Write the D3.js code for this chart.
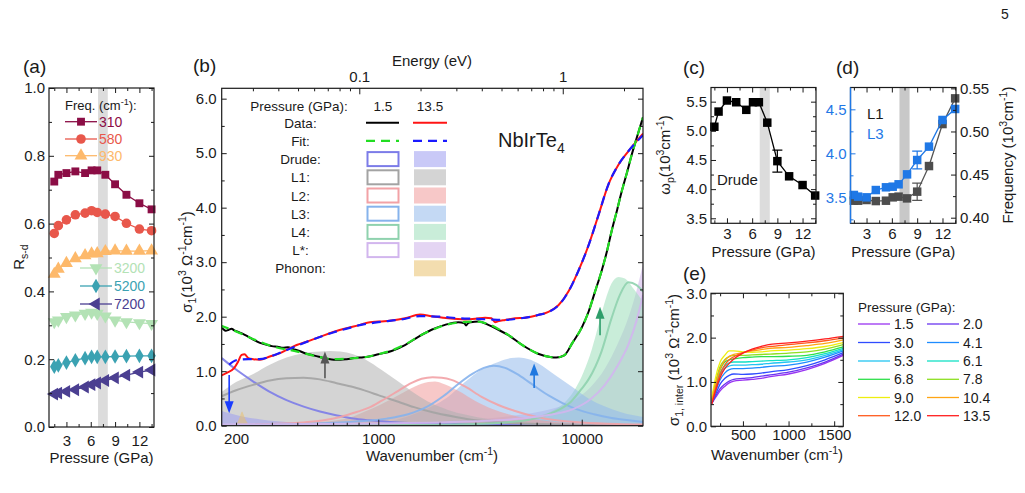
<!DOCTYPE html>
<html>
<head>
<meta charset="utf-8">
<script src="https://cdn.jsdelivr.net/npm/d3@7"></script>
<style>
  body { margin: 0; background: #fff; }
  text { font-family: "Liberation Sans", Arial, sans-serif; }
</style>
</head>
<body>
<div id="fig"></div>
<script>
// ---------------- data ----------------
const pressures = [1.5, 2.0, 3.0, 4.1, 5.3, 6.1, 6.8, 7.8, 9.0, 10.4, 12.0, 13.5];
const bandLo = 6.9, bandHi = 8.1;

// (a) R_s-d at each frequency
const rsd310  = [0.724, 0.744, 0.749, 0.754, 0.749, 0.757, 0.757, 0.744, 0.716, 0.685, 0.660, 0.642];
const rsd580  = [0.571, 0.594, 0.611, 0.626, 0.631, 0.638, 0.633, 0.628, 0.621, 0.601, 0.584, 0.579];
const rsd930  = [0.451, 0.466, 0.483, 0.497, 0.506, 0.511, 0.512, 0.518, 0.520, 0.519, 0.519, 0.520];
const rsd3200 = [0.310, 0.315, 0.325, 0.330, 0.335, 0.338, 0.335, 0.327, 0.315, 0.310, 0.307, 0.305];
const rsd5200 = [0.178, 0.182, 0.190, 0.197, 0.203, 0.207, 0.207, 0.207, 0.208, 0.209, 0.210, 0.210];
const rsd7200 = [0.097, 0.100, 0.105, 0.110, 0.118, 0.125, 0.130, 0.137, 0.145, 0.153, 0.162, 0.168];

// (b) sigma_1 [wavenumber, value]
const data15 = [[167,1.82],[172,1.78],[178,1.74],[184,1.76],[190,1.78],[196,1.75],[205,1.72],[215,1.69],[228,1.64],[243,1.58],[262,1.52],[280,1.49],[300,1.46],[320,1.45],[340,1.43],[360,1.44],[380,1.41],[410,1.37],[444,1.32],[480,1.29],[517,1.26],[560,1.23],[605,1.21],[650,1.21],[700,1.22],[760,1.24],[813,1.25],[900,1.27],[1000,1.31],[1163,1.37],[1353,1.48],[1573,1.63],[1828,1.76],[2128,1.85],[2473,1.90],[2650,1.88],[2700,1.84],[2760,1.88],[2850,1.90],[3107,1.91],[3473,1.85],[3890,1.76],[4360,1.66],[5100,1.48],[6100,1.32],[7000,1.26],[7500,1.25],[8200,1.29],[9000,1.52],[10000,1.80],[10800,2.09],[11600,2.45],[12500,2.83],[13300,3.20],[14000,3.56],[14900,3.95],[15700,4.29],[16700,4.65],[17600,4.97],[18700,5.30],[20000,5.66]];
const data135 = [[167,0.91],[180,0.97],[195,1.05],[205,1.18],[213,1.30],[220,1.31],[230,1.24],[243,1.22],[262,1.21],[293,1.27],[329,1.33],[354,1.39],[397,1.48],[444,1.54],[517,1.63],[601,1.72],[699,1.79],[813,1.85],[910,1.90],[1000,1.91],[1163,1.93],[1353,1.97],[1603,2.04],[1828,2.01],[2208,1.97],[2666,1.95],[3000,1.96],[3350,1.98],[3600,1.97],[3750,1.90],[3900,1.92],[4200,1.94],[4700,1.97],[5260,1.98],[6120,2.03],[6860,2.09],[7680,2.21],[8600,2.46],[9600,2.83],[10800,3.31],[12100,3.87],[13500,4.42],[15100,4.78],[16900,5.03],[20000,5.36]];
const fit15 = [[167,1.84],[200,1.73],[250,1.57],[300,1.46],[400,1.36],[500,1.27],[600,1.22],[700,1.23],[900,1.27],[1000,1.31],[1200,1.40],[1400,1.52],[1600,1.65],[1900,1.78],[2200,1.86],[2600,1.90],[3000,1.91],[3500,1.86],[4000,1.75],[4500,1.63],[5100,1.48],[6100,1.32],[7000,1.26],[7500,1.25],[8200,1.29],[9000,1.52],[10000,1.80],[10800,2.09],[11600,2.45],[12500,2.83],[13300,3.20],[14000,3.56],[14900,3.95],[15700,4.29],[16700,4.65],[17600,4.97],[18700,5.30],[20000,5.66]];
const fit135 = [[185,1.12],[200,1.20],[230,1.22],[260,1.22],[300,1.28],[350,1.38],[400,1.47],[500,1.61],[600,1.71],[700,1.78],[800,1.84],[1000,1.90],[1300,1.95],[1600,2.01],[2000,2.00],[2500,1.97],[3000,1.96],[3500,1.95],[4000,1.94],[5000,1.97],[6100,2.03],[6900,2.09],[7700,2.21],[8600,2.46],[9600,2.83],[10800,3.31],[12100,3.87],[13500,4.42],[15100,4.78],[16900,5.03],[20000,5.33]];

// 1.5 GPa components (lines)
const drude15 = [[170,1.24],[200,1.03],[243,0.81],[290,0.63],[354,0.47],[430,0.35],[517,0.26],[620,0.19],[753,0.13],[900,0.10],[1141,0.07],[2000,0.035],[5000,0.015],[20000,0.005]];
const l1_15 = [[170,0.54],[200,0.65],[243,0.75],[293,0.83],[354,0.87],[430,0.88],[517,0.85],[624,0.78],[753,0.71],[900,0.62],[1000,0.56],[1254,0.44],[1500,0.34],[1828,0.25],[2400,0.16],[3000,0.10],[5000,0.04],[10000,0.015],[20000,0.005]];
const l2_15 = [[170,0.01],[300,0.03],[430,0.06],[540,0.10],[650,0.16],[782,0.25],[900,0.33],[1040,0.46],[1254,0.64],[1450,0.78],[1633,0.86],[1850,0.89],[2050,0.88],[2290,0.84],[2666,0.72],[3220,0.53],[3890,0.38],[4700,0.27],[6000,0.16],[7500,0.10],[10000,0.06],[15000,0.03],[20000,0.02]];
const l3_15 = [[170,0.01],[500,0.04],[800,0.08],[1100,0.13],[1400,0.21],[1700,0.33],[2100,0.55],[2500,0.78],[2900,0.95],[3300,1.06],[3700,1.10],[4200,1.06],[4800,0.95],[5600,0.78],[6900,0.55],[8000,0.42],[9500,0.30],[11500,0.21],[14000,0.14],[17000,0.10],[20000,0.07]];
const l4_15 = [[170,0.005],[1000,0.01],[3000,0.03],[4200,0.06],[5500,0.11],[6500,0.18],[7600,0.28],[8900,0.45],[10000,0.68],[10800,0.85],[12500,1.36],[14000,1.97],[15400,2.40],[16950,2.63],[18600,2.58],[20000,2.46]];
const lstar15 = [[170,0.02],[1000,0.04],[3000,0.08],[5000,0.13],[7000,0.20],[9000,0.30],[11000,0.48],[13000,0.75],[15000,1.10],[17000,1.50],[18500,1.90],[20000,2.40]];

// 13.5 GPa components (filled)
const drude135 = [[170,0.27],[190,0.22],[220,0.16],[260,0.12],[320,0.08],[420,0.05],[600,0.03],[1000,0.02],[3000,0.01],[20000,0.0]];
const phonon135 = [[180,0],[195,0.01],[203,0.06],[209,0.17],[214,0.26],[219,0.18],[226,0.07],[235,0.02],[250,0.005],[270,0]];
const l1_135 = [[170,0.62],[200,0.80],[243,0.95],[293,1.12],[354,1.25],[430,1.33],[517,1.36],[580,1.37],[650,1.36],[753,1.31],[860,1.22],[1040,1.02],[1254,0.81],[1514,0.59],[1828,0.41],[2200,0.29],[2700,0.20],[3500,0.12],[5000,0.07],[10000,0.03],[20000,0.01]];
const l2_135 = [[170,0.01],[400,0.04],[600,0.09],[753,0.17],[860,0.26],[1040,0.40],[1254,0.56],[1514,0.72],[1760,0.80],[1900,0.81],[2050,0.78],[2470,0.64],[2985,0.46],[3610,0.31],[4360,0.21],[5500,0.13],[7500,0.07],[10000,0.04],[20000,0.015]];
const l3_135 = [[170,0.01],[600,0.03],[1000,0.05],[1254,0.12],[1514,0.22],[1828,0.35],[2208,0.53],[2666,0.80],[3220,1.03],[3890,1.17],[4500,1.24],[4900,1.25],[5500,1.22],[6120,1.14],[7390,0.93],[8920,0.72],[10790,0.50],[13020,0.35],[15740,0.24],[20000,0.16]];
const l4_135 = [[170,0.005],[2000,0.02],[3500,0.05],[5000,0.10],[6100,0.17],[7400,0.30],[8400,0.46],[9300,0.68],[10200,0.98],[11200,1.40],[12100,1.85],[13000,2.28],[14000,2.61],[15150,2.73],[16300,2.70],[17900,2.52],[20000,2.28]];
const lstar135 = [[170,0.03],[1000,0.06],[3000,0.12],[5000,0.20],[7000,0.30],[9000,0.45],[11000,0.70],[13000,1.05],[15000,1.50],[17000,2.00],[18500,2.45],[20000,2.97]];

// (b) arrows: wavenumber, start, end
const arrowW = [185, 547, 5835, 12300];
const arrowFrom = [0.93, 0.87, 0.69, 1.66];
const arrowTo = [0.23, 1.36, 1.14, 2.18];

// (c) Drude plasma frequency
const drudeWp = [5.07, 5.33, 5.52, 5.49, 5.36, 5.49, 5.49, 5.14, 4.48, 4.22, 4.07, 3.89];
const drudeWpErr = [0, 0, 0, 0, 0, 0, 0, 0, 0.19, 0, 0, 0];

// (d) oscillator frequencies
const l3Freq = [3.527, 3.508, 3.50, 3.583, 3.614, 3.621, 3.648, 3.761, 3.924, 4.076, 4.379, 4.504];
const l3Err = [0, 0, 0, 0, 0, 0, 0, 0, 0.10, 0, 0, 0];
const l1Freq = [0.4197, 0.4197, 0.4205, 0.4193, 0.4197, 0.4236, 0.4244, 0.4224, 0.4302, 0.4599, 0.5086, 0.5384];
const l1Err = [0, 0, 0, 0, 0, 0, 0, 0, 0.01, 0, 0, 0];

// (e) sigma_1,inter
const eWaves = [160, 200, 250, 300, 350, 400, 500, 600, 700, 800, 1000, 1200, 1400, 1600];
const sig1_5  = [0.52,0.65,0.80,0.90,0.98,1.02,1.04,1.06,1.08,1.12,1.18,1.28,1.42,1.60];
const sig2_0  = [0.52,0.68,0.85,0.95,1.02,1.06,1.08,1.10,1.13,1.16,1.22,1.32,1.45,1.63];
const sig3_0  = [0.52,0.72,0.95,1.08,1.15,1.18,1.17,1.18,1.20,1.23,1.28,1.37,1.50,1.66];
const sig4_1  = [0.55,0.78,1.05,1.20,1.28,1.30,1.30,1.31,1.33,1.35,1.38,1.45,1.56,1.70];
const sig5_3  = [0.57,0.85,1.15,1.30,1.36,1.38,1.38,1.39,1.40,1.42,1.45,1.50,1.60,1.73];
const sig6_1  = [0.58,0.90,1.20,1.36,1.43,1.45,1.45,1.46,1.47,1.48,1.50,1.55,1.64,1.76];
const sig6_8  = [0.60,0.95,1.28,1.45,1.50,1.52,1.55,1.56,1.57,1.57,1.58,1.60,1.68,1.79];
const sig7_8  = [0.62,1.00,1.35,1.50,1.57,1.60,1.60,1.61,1.62,1.63,1.65,1.68,1.74,1.84];
const sig9_0  = [0.65,1.10,1.45,1.60,1.70,1.70,1.68,1.67,1.68,1.70,1.72,1.75,1.80,1.89];
const sig10_4 = [0.58,0.95,1.30,1.48,1.58,1.62,1.66,1.70,1.73,1.76,1.78,1.82,1.87,1.95];
const sig12_0 = [0.53,0.85,1.18,1.38,1.50,1.57,1.66,1.72,1.77,1.80,1.84,1.88,1.93,1.99];
const sig13_5 = [0.50,0.80,1.10,1.30,1.42,1.52,1.65,1.74,1.80,1.85,1.88,1.92,1.97,2.03];

// ---------------- setup ----------------
const INK = "#1a1a1a";
const svg = d3.select("#fig").append("svg")
    .attr("width", 1025)
    .attr("height", 493)
    .style("background", "#fff");

// text with sub/superscripts: parts = [[text, "sup"|"sub"|undefined], ...]
function rich(sel, parts, size) {
    let shift = 0;
    parts.forEach(p => {
        const s = p[1] === "sup" ? -0.38 * size : (p[1] === "sub" ? 0.28 * size : 0);
        sel.append("tspan")
            .attr("dy", s - shift)
            .attr("font-size", p[1] ? size * 0.7 : size)
            .text(p[0]);
        shift = s;
    });
    return sel;
}

function axis(g, kind, scale, values, size, opt) {
    opt = opt || {};
    const gen = {bottom: d3.axisBottom, top: d3.axisTop, left: d3.axisLeft, right: d3.axisRight}[kind];
    const ax = gen(scale).tickValues(values).tickSizeInner(-size).tickSizeOuter(0)
        .tickPadding(opt.pad || 4).tickFormat(opt.fmt || (() => ""));
    const sel = g.append("g").attr("transform", opt.tr || null).call(ax);
    sel.attr("font-family", "Liberation Sans, Arial, sans-serif").attr("font-size", 15);
    sel.select(".domain").remove();
    sel.selectAll(".tick line").attr("stroke", opt.color || INK).attr("stroke-width", 1);
    sel.selectAll(".tick text").attr("fill", opt.color || INK);
    return sel;
}

function frame(g, p) {
    g.append("rect").attr("x", p.x0).attr("y", p.y0)
        .attr("width", p.x1 - p.x0).attr("height", p.y1 - p.y0)
        .attr("fill", "none").attr("stroke", INK).attr("stroke-width", 1.2);
}

function panelLetter(x, y, s) {
    svg.append("text").attr("x", x).attr("y", y).attr("font-size", 19).attr("fill", INK).text(s);
}

function pressureTicks(g, x, p, pad) {
    const minor = [1.5, 4.5, 7.5, 10.5, 13.5].filter(v => v <= x.domain()[1]);
    axis(g, "bottom", x, [3, 6, 9, 12], 5, {tr: `translate(0,${p.y1})`, fmt: d3.format("d"), pad: pad});
    axis(g, "bottom", x, minor, 3, {tr: `translate(0,${p.y1})`});
    axis(g, "top", x, [3, 6, 9, 12], 5, {tr: `translate(0,${p.y0})`});
    axis(g, "top", x, minor, 3, {tr: `translate(0,${p.y0})`});
}

svg.append("text").attr("x", 1001).attr("y", 19).attr("font-size", 14).attr("fill", INK).text("5");

// ---------------- panel (a) ----------------
const pa = {x0: 49, x1: 154, y0: 88, y1: 427};
const xa = d3.scaleLinear().domain([0.85, 13.8]).range([pa.x0, pa.x1]);
const ya = d3.scaleLinear().domain([0, 1]).range([pa.y1, pa.y0]);
const ga = svg.append("g");

ga.append("rect").attr("x", xa(bandLo)).attr("y", pa.y0)
    .attr("width", xa(bandHi) - xa(bandLo)).attr("height", pa.y1 - pa.y0).attr("fill", "#dcdcdc");

const rsdSeries = [
    {label: "310", vals: rsd310, color: "#8b0d45", sym: d3.symbolSquare, size: 62, rot: 0},
    {label: "580", vals: rsd580, color: "#e8574b", sym: d3.symbolCircle, size: 72, rot: 0},
    {label: "930", vals: rsd930, color: "#fdb96b", sym: d3.symbolTriangle, size: 72, rot: 0},
    {label: "3200", vals: rsd3200, color: "#b3e2b5", sym: d3.symbolTriangle, size: 72, rot: 180},
    {label: "5200", vals: rsd5200, color: "#3ba2b2", sym: d3.symbolDiamond, size: 62, rot: 0},
    {label: "7200", vals: rsd7200, color: "#4b3f91", sym: d3.symbolTriangle, size: 72, rot: -90}
];

rsdSeries.forEach(s => {
    ga.append("path").datum(s.vals)
        .attr("d", d3.line().x((v, i) => xa(pressures[i])).y(v => ya(v)))
        .attr("fill", "none").attr("stroke", s.color).attr("stroke-width", 1.3);
    ga.selectAll(null).data(s.vals).join("path")
        .attr("transform", (v, i) => `translate(${xa(pressures[i])},${ya(v)}) rotate(${s.rot})`)
        .attr("d", d3.symbol().type(s.sym).size(s.size))
        .attr("fill", s.color);
});

// legend (a)
rich(ga.append("text").attr("x", 65).attr("y", 110).attr("fill", INK),
    [["Freq. (cm"], ["-1", "sup"], ["):"]], 13);
const legAy = [121.7, 139, 155.7, 268, 286, 304];
const legAx = [65, 65, 65, 80, 80, 80];
rsdSeries.forEach((s, i) => {
    const lx = legAx[i], ly = legAy[i];
    ga.append("line").attr("x1", lx).attr("x2", lx + 32).attr("y1", ly).attr("y2", ly)
        .attr("stroke", s.color).attr("stroke-width", 1.3);
    ga.append("path").attr("transform", `translate(${lx + 16},${ly}) rotate(${s.rot})`)
        .attr("d", d3.symbol().type(s.sym).size(s.size)).attr("fill", s.color);
    ga.append("text").attr("x", lx + 34).attr("y", ly + 5).attr("font-size", 14)
        .attr("fill", s.color).text(s.label);
});

pressureTicks(ga, xa, pa, 8);
axis(ga, "left", ya, d3.range(0, 1.01, 0.2), 5, {tr: `translate(${pa.x0},0)`, fmt: d3.format(".1f"), pad: 4});
axis(ga, "left", ya, d3.range(0.1, 1, 0.2), 3, {tr: `translate(${pa.x0},0)`});
axis(ga, "right", ya, d3.range(0, 1.01, 0.2), 5, {tr: `translate(${pa.x1},0)`});
axis(ga, "right", ya, d3.range(0.1, 1, 0.2), 3, {tr: `translate(${pa.x1},0)`});
frame(ga, pa);

ga.append("text").attr("x", (pa.x0 + pa.x1) / 2).attr("y", 463).attr("text-anchor", "middle")
    .attr("font-size", 15).attr("fill", INK).text("Pressure (GPa)");
rich(ga.append("text").attr("transform", "translate(24,257) rotate(-90)").attr("text-anchor", "middle").attr("fill", INK),
    [["R"], ["s-d", "sub"]], 15);
panelLetter(23, 73, "(a)");

// ---------------- panel (b) ----------------
const pb = {x0: 221.7, x1: 643, y0: 88.3, y1: 425.7};
const CM_PER_EV = 8065.54;
const xb = d3.scaleLog().domain([170, 20000]).range([pb.x0, pb.x1]);
const xbe = d3.scaleLog().domain([170 / CM_PER_EV, 20000 / CM_PER_EV]).range([pb.x0, pb.x1]);
const yb = d3.scaleLinear().domain([0, 6.19]).range([pb.y1, pb.y0]);
const gb = svg.append("g");

svg.append("defs").append("clipPath").attr("id", "clipb").append("rect")
    .attr("x", pb.x0).attr("y", pb.y0).attr("width", pb.x1 - pb.x0).attr("height", pb.y1 - pb.y0);
const plotB = gb.append("g").attr("clip-path", "url(#clipb)");

const lineB = d3.line().x(d => xb(d[0])).y(d => yb(d[1])).curve(d3.curveMonotoneX);
const areaB = d3.area().x(d => xb(d[0])).y0(yb(0)).y1(d => yb(d[1])).curve(d3.curveMonotoneX);

const comps = [
    {name: "Drude:", line: drude15, fill: drude135, stroke: "#7c7ce8", base: "#9d9df0"},
    {name: "L1:", line: l1_15, fill: l1_135, stroke: "#a3a3a3", base: "#b1b1b1"},
    {name: "L2:", line: l2_15, fill: l2_135, stroke: "#f2a2a6", base: "#f09b9b"},
    {name: "L3:", line: l3_15, fill: l3_135, stroke: "#86b3ec", base: "#94baeb"},
    {name: "L4:", line: l4_15, fill: l4_135, stroke: "#8fd2ae", base: "#9ddeba"},
    {name: "L*:", line: lstar15, fill: lstar135, stroke: "#d2b6ee", base: "#ceb3e9"},
    {name: "Phonon:", line: null, fill: phonon135, stroke: null, base: "#e9c16e"}
];
const FILL_OP = 0.55;

// filled 13.5 GPa components
[5, 4, 3, 2, 1, 0, 6].forEach(i => {
    plotB.append("path").datum(comps[i].fill).attr("d", areaB)
        .attr("fill", comps[i].base).attr("fill-opacity", FILL_OP);
});
// 1.5 GPa component lines
comps.forEach(c => {
    if (!c.line) return;
    plotB.append("path").datum(c.line).attr("d", lineB)
        .attr("fill", "none").attr("stroke", c.stroke).attr("stroke-width", 2).attr("opacity", 0.9);
});

// data and fits
plotB.append("path").datum(data15).attr("d", lineB).attr("fill", "none").attr("stroke", "#000").attr("stroke-width", 2);
plotB.append("path").datum(data135).attr("d", lineB).attr("fill", "none").attr("stroke", "#ff1414").attr("stroke-width", 2);
plotB.append("path").datum(fit15).attr("d", lineB).attr("fill", "none").attr("stroke", "#22dd22")
    .attr("stroke-width", 2.2).attr("stroke-dasharray", "9,6");
plotB.append("path").datum(fit135).attr("d", lineB).attr("fill", "none").attr("stroke", "#1a1aff")
    .attr("stroke-width", 2.2).attr("stroke-dasharray", "9,6");

// arrows
const arrowColors = ["#1a3cff", "#555555", "#1f78e0", "#2e9e6a"];
arrowW.forEach((w, i) => {
    const x = xb(w), y1 = yb(arrowFrom[i]), y2 = yb(arrowTo[i]);
    const dir = y2 > y1 ? 1 : -1;
    plotB.append("line").attr("x1", x).attr("x2", x).attr("y1", y1).attr("y2", y2 - dir * 8)
        .attr("stroke", arrowColors[i]).attr("stroke-width", 1.6);
    plotB.append("path")
        .attr("d", `M${x},${y2} L${x - 4.5},${y2 - dir * 12} L${x + 4.5},${y2 - dir * 12} Z`)
        .attr("fill", arrowColors[i]);
});

// axes (b)
axis(gb, "bottom", xb, [1000, 10000], 6, {tr: `translate(0,${pb.y1})`, fmt: d3.format("d"), pad: 8});
const minorW = [200, 300, 400, 500, 600, 700, 800, 900, 2000, 3000, 4000, 5000, 6000, 7000, 8000, 9000];
axis(gb, "bottom", xb, minorW, 3, {tr: `translate(0,${pb.y1})`, fmt: v => v === 200 ? "200" : "", pad: 8});
axis(gb, "top", xbe, [0.1, 1], 6, {tr: `translate(0,${pb.y0})`, fmt: v => String(v), pad: 6});
const minorE = [0.03, 0.04, 0.05, 0.06, 0.07, 0.08, 0.09, 0.2, 0.3, 0.4, 0.5, 0.6, 0.7, 0.8, 0.9, 2];
axis(gb, "top", xbe, minorE, 3, {tr: `translate(0,${pb.y0})`});
axis(gb, "left", yb, d3.range(0, 6.01, 1), 5, {tr: `translate(${pb.x0},0)`, fmt: d3.format(".1f"), pad: 5});
axis(gb, "left", yb, d3.range(0.5, 6.1, 1), 3, {tr: `translate(${pb.x0},0)`});
axis(gb, "right", yb, d3.range(0, 6.01, 1), 5, {tr: `translate(${pb.x1},0)`});
axis(gb, "right", yb, d3.range(0.5, 6.1, 1), 3, {tr: `translate(${pb.x1},0)`});
frame(gb, pb);

gb.append("text").attr("x", 432).attr("y", 66).attr("text-anchor", "middle")
    .attr("font-size", 15).attr("fill", INK).text("Energy (eV)");
rich(gb.append("text").attr("x", 432).attr("y", 461).attr("text-anchor", "middle").attr("fill", INK),
    [["Wavenumber (cm"], ["-1", "sup"], [")"]], 15);
rich(gb.append("text").attr("transform", "translate(192,262) rotate(-90)").attr("text-anchor", "middle").attr("fill", INK),
    [["σ"], ["1", "sub"], ["(10"], ["3", "sup"], [" Ω"], ["-1", "sup"], ["cm"], ["-1", "sup"], [")"]], 15);
rich(gb.append("text").attr("x", 498).attr("y", 147).attr("fill", INK), [["NbIrTe"], ["4", "sub"]], 20);
panelLetter(193, 72, "(b)");

// legend (b)
const legB = gb.append("g").attr("font-size", 13.5).attr("fill", INK);
legB.append("text").attr("x", 299).attr("y", 110.5).attr("text-anchor", "middle").text("Pressure (GPa):");
legB.append("text").attr("x", 383).attr("y", 110.5).attr("text-anchor", "middle").text("1.5");
legB.append("text").attr("x", 430).attr("y", 110.5).attr("text-anchor", "middle").text("13.5");
const rowY = d3.range(9).map(i => 122.7 + i * 18.2);
const rowLabels = ["Data:", "Fit:"].concat(comps.map(c => c.name));
rowLabels.forEach((t, i) => {
    legB.append("text").attr("x", 300.5).attr("y", rowY[i] + 5).attr("text-anchor", "middle").text(t);
});
legB.append("line").attr("x1", 366).attr("x2", 399).attr("y1", rowY[0]).attr("y2", rowY[0]).attr("stroke", "#000").attr("stroke-width", 2);
legB.append("line").attr("x1", 413).attr("x2", 447).attr("y1", rowY[0]).attr("y2", rowY[0]).attr("stroke", "#ff1414").attr("stroke-width", 2);
legB.append("line").attr("x1", 366).attr("x2", 399).attr("y1", rowY[1]).attr("y2", rowY[1]).attr("stroke", "#22dd22").attr("stroke-width", 2.2).attr("stroke-dasharray", "9,6");
legB.append("line").attr("x1", 413).attr("x2", 447).attr("y1", rowY[1]).attr("y2", rowY[1]).attr("stroke", "#1a1aff").attr("stroke-width", 2.2).attr("stroke-dasharray", "9,6");
comps.forEach((c, i) => {
    const cy = rowY[i + 2];
    if (c.line) {
        legB.append("rect").attr("x", 367.5).attr("y", cy - 7).attr("width", 31).attr("height", 14)
            .attr("fill", "none").attr("stroke", c.stroke).attr("stroke-width", 2);
    }
    legB.append("rect").attr("x", 414).attr("y", cy - 8).attr("width", 32).attr("height", 16)
        .attr("fill", c.base).attr("fill-opacity", FILL_OP);
});

// ---------------- panel (c) ----------------
const pc = {x0: 711, x1: 816, y0: 87.5, y1: 223.3};
const xc = d3.scaleLinear().domain([1.1, 13.6]).range([pc.x0, pc.x1]);
const yc = d3.scaleLinear().domain([3.414, 5.743]).range([pc.y1, pc.y0]);
const gc = svg.append("g");
gc.append("rect").attr("x", xc(bandLo)).attr("y", pc.y0)
    .attr("width", xc(bandHi) - xc(bandLo)).attr("height", pc.y1 - pc.y0).attr("fill", "#dcdcdc");

function errorBars(g, x, y, vals, errs, color) {
    vals.forEach((v, i) => {
        if (!errs[i]) return;
        const px = x(pressures[i]);
        g.append("path")
            .attr("d", `M${px},${y(v - errs[i])}V${y(v + errs[i])}M${px - 5},${y(v - errs[i])}H${px + 5}M${px - 5},${y(v + errs[i])}H${px + 5}`)
            .attr("stroke", color).attr("stroke-width", 1.2).attr("fill", "none");
    });
}
function squareSeries(g, x, y, vals, color, lineColor) {
    g.append("path").datum(vals)
        .attr("d", d3.line().x((v, i) => x(pressures[i])).y(v => y(v)))
        .attr("fill", "none").attr("stroke", lineColor || color).attr("stroke-width", 1.3);
    g.selectAll(null).data(vals).join("path")
        .attr("transform", (v, i) => `translate(${x(pressures[i])},${y(v)})`)
        .attr("d", d3.symbol().type(d3.symbolSquare).size(72))
        .attr("fill", color);
}
errorBars(gc, xc, yc, drudeWp, drudeWpErr, "#000");
squareSeries(gc, xc, yc, drudeWp, "#000");

pressureTicks(gc, xc, pc, 5);
axis(gc, "left", yc, [3.5, 4.0, 4.5, 5.0, 5.5], 5, {tr: `translate(${pc.x0},0)`, fmt: d3.format(".1f"), pad: 4});
axis(gc, "left", yc, [3.75, 4.25, 4.75, 5.25], 3, {tr: `translate(${pc.x0},0)`});
axis(gc, "right", yc, [3.5, 4.0, 4.5, 5.0, 5.5], 5, {tr: `translate(${pc.x1},0)`});
axis(gc, "right", yc, [3.75, 4.25, 4.75, 5.25], 3, {tr: `translate(${pc.x1},0)`});
frame(gc, pc);
gc.append("text").attr("x", 717).attr("y", 184.5).attr("font-size", 15).attr("fill", INK).text("Drude");
gc.append("text").attr("x", (pc.x0 + pc.x1) / 2).attr("y", 257).attr("text-anchor", "middle")
    .attr("font-size", 15).attr("fill", INK).text("Pressure (GPa)");
rich(gc.append("text").attr("transform", "translate(670,155) rotate(-90)").attr("text-anchor", "middle").attr("fill", INK),
    [["ω"], ["p", "sub"], ["(10"], ["3", "sup"], ["cm"], ["-1", "sup"], [")"]], 15);
panelLetter(683, 74, "(c)");

// ---------------- panel (d) ----------------
const pd = {x0: 850.5, x1: 956, y0: 87.5, y1: 223.3};
const xd = d3.scaleLinear().domain([1.1, 13.6]).range([pd.x0, pd.x1]);
const ydL = d3.scaleLinear().domain([3.205, 4.748]).range([pd.y1, pd.y0]);
const ydR = d3.scaleLinear().domain([0.3935, 0.551]).range([pd.y1, pd.y0]);
const BLUE = "#1f78e6";
const gd = svg.append("g");
gd.append("rect").attr("x", xd(bandLo)).attr("y", pd.y0)
    .attr("width", xd(bandHi) - xd(bandLo)).attr("height", pd.y1 - pd.y0).attr("fill", "#c8c8c8");

errorBars(gd, xd, ydR, l1Freq, l1Err, "#555");
squareSeries(gd, xd, ydR, l1Freq, "#4d4d4d", "#555");
errorBars(gd, xd, ydL, l3Freq, l3Err, BLUE);
squareSeries(gd, xd, ydL, l3Freq, BLUE);

pressureTicks(gd, xd, pd, 5);
axis(gd, "left", ydL, [3.5, 4.0, 4.5], 5, {tr: `translate(${pd.x0},0)`, fmt: d3.format(".1f"), pad: 4, color: BLUE});
axis(gd, "left", ydL, [3.25, 3.75, 4.25, 4.75].filter(v => v < 4.748), 3, {tr: `translate(${pd.x0},0)`, color: BLUE});
axis(gd, "right", ydR, [0.40, 0.45, 0.50, 0.55], 5, {tr: `translate(${pd.x1},0)`, fmt: d3.format(".2f"), pad: 4});
axis(gd, "right", ydR, [0.425, 0.475, 0.525], 3, {tr: `translate(${pd.x1},0)`});
frame(gd, pd);
gd.append("line").attr("x1", pd.x0).attr("x2", pd.x0).attr("y1", pd.y0).attr("y2", pd.y1)
    .attr("stroke", BLUE).attr("stroke-width", 1.4);
gd.append("text").attr("x", 867).attr("y", 118.5).attr("font-size", 15).attr("fill", INK).text("L1");
gd.append("text").attr("x", 867).attr("y", 138.5).attr("font-size", 15).attr("fill", BLUE).text("L3");
gd.append("text").attr("x", (pd.x0 + pd.x1) / 2).attr("y", 257).attr("text-anchor", "middle")
    .attr("font-size", 15).attr("fill", INK).text("Pressure (GPa)");
rich(gd.append("text").attr("transform", "translate(1013,155) rotate(-90)").attr("text-anchor", "middle").attr("fill", INK),
    [["Frequency (10"], ["3", "sup"], ["cm"], ["-1", "sup"], [")"]], 15);
panelLetter(836, 74, "(d)");

// ---------------- panel (e) ----------------
const pe = {x0: 711, x1: 843.3, y0: 293.3, y1: 426.3};
const xe = d3.scaleLinear().domain([150, 1600]).range([pe.x0, pe.x1]);
const ye = d3.scaleLinear().domain([0, 3]).range([pe.y1, pe.y0]);
const ge = svg.append("g");
const eSeries = [sig1_5, sig2_0, sig3_0, sig4_1, sig5_3, sig6_1, sig6_8, sig7_8, sig9_0, sig10_4, sig12_0, sig13_5];
const eColors = ["#9933f2", "#6a35f0", "#2f4cff", "#1e8cff", "#22c4f2", "#12e0c4",
                 "#2ee04a", "#8ee022", "#eeee10", "#ffa514", "#ff5a1e", "#ff1e1e"];
const lineE = d3.line().x((v, i) => xe(eWaves[i])).y(v => ye(v)).curve(d3.curveMonotoneX);
eSeries.forEach((s, i) => {
    ge.append("path").datum(s).attr("d", lineE).attr("fill", "none")
        .attr("stroke", eColors[i]).attr("stroke-width", 1.3);
});
axis(ge, "bottom", xe, [500, 1000, 1500], 5, {tr: `translate(0,${pe.y1})`, fmt: d3.format("d"), pad: 3});
axis(ge, "bottom", xe, [250, 750, 1250], 3, {tr: `translate(0,${pe.y1})`});
axis(ge, "top", xe, [500, 1000, 1500], 5, {tr: `translate(0,${pe.y0})`});
axis(ge, "top", xe, [250, 750, 1250], 3, {tr: `translate(0,${pe.y0})`});
axis(ge, "left", ye, [0, 1, 2, 3], 5, {tr: `translate(${pe.x0},0)`, fmt: d3.format(".1f"), pad: 4});
axis(ge, "left", ye, [0.5, 1.5, 2.5], 3, {tr: `translate(${pe.x0},0)`});
axis(ge, "right", ye, [0, 1, 2, 3], 5, {tr: `translate(${pe.x1},0)`});
axis(ge, "right", ye, [0.5, 1.5, 2.5], 3, {tr: `translate(${pe.x1},0)`});
frame(ge, pe);
rich(ge.append("text").attr("x", 777).attr("y", 460).attr("text-anchor", "middle").attr("fill", INK),
    [["Wavenumber (cm"], ["-1", "sup"], [")"]], 15);
rich(ge.append("text").attr("transform", "translate(679,360) rotate(-90)").attr("text-anchor", "middle").attr("fill", INK),
    [["σ"], ["1, inter", "sub"], [" (10"], ["3", "sup"], [" Ω"], ["-1", "sup"], ["cm"], ["-1", "sup"], [")"]], 15);
panelLetter(683, 280, "(e)");

// legend (e)
ge.append("text").attr("x", 858).attr("y", 312).attr("font-size", 13.5).attr("fill", INK).text("Pressure (GPa):");
const legEy = [324, 342.5, 361, 379.3, 397.5, 415.7];
pressures.forEach((p, i) => {
    const col = i % 2, row = Math.floor(i / 2);
    const lx = col === 0 ? 858 : 927, ly = legEy[row];
    ge.append("line").attr("x1", lx).attr("x2", lx + 32).attr("y1", ly).attr("y2", ly)
        .attr("stroke", eColors[i]).attr("stroke-width", 1.3);
    ge.append("text").attr("x", lx + 36).attr("y", ly + 5).attr("font-size", 14)
        .attr("fill", INK).text(p.toFixed(1));
});
</script>
</body>
</html>
